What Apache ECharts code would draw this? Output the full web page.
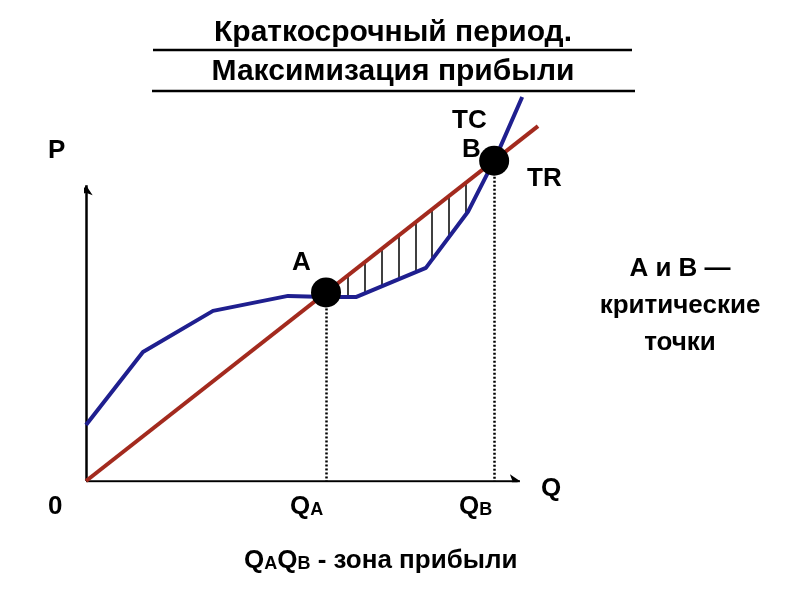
<!DOCTYPE html><html><head><meta charset="utf-8"><script src="https://cdn.jsdelivr.net/npm/echarts@6/dist/echarts.min.js"></script>
<style>body{margin:0}#c{width:794px;height:595px}</style></head><body><div id="c"></div><script>
const trLine=[[0,0],[100,92.4]];
const tcLine=[[0,14.6],[12.6,33.6],[28.1,44.3],[44.7,48.2],[53.1,47.9],[59.7,47.9],[75.2,55.5],[84.5,70.1],[90.7,84.4],[96.5,100]];
const critPoints=[[53.1,49.1],[90.3,83.4]];
const hatchX=[58,61.7,65.5,69.2,73,76.5,80.3,84];
const trSlope=0.924;
function tcAt(x){for(let i=1;i<tcLine.length;i++){const a=tcLine[i-1],b=tcLine[i];if(x<=b[0])return a[1]+(b[1]-a[1])*(x-a[0])/(b[0]-a[0]);}return 100;}
const hatch=hatchX.map(x=>({coords:[[x,x*trSlope],[x,tcAt(x)]]}));
const drops=critPoints.map(p=>({coords:[[p[0],p[1]],[p[0],0]]}));
const axes=[{coords:[[0,0],[96,0]]},{coords:[[0,0],[0,77]]}];
const F='"Liberation Sans",Arial,sans-serif';
const B='bold 26px '+F;
const t=(x,y,txt)=>({type:'text',left:x,top:y,style:{text:txt,font:B,fill:'#000'}});
const sub=(x,y,txt)=>({type:'text',left:x,top:y,style:{text:txt,rich:{a:{font:B,fill:'#000'},s:{font:'bold 18px '+F,fill:'#000',verticalAlign:'bottom',padding:[0,0,1,0]}}}});
const chart=echarts.init(document.getElementById('c'));
chart.setOption({animation:false,
grid:{left:86,right:256,top:97,bottom:114},
xAxis:{type:'value',min:0,max:100,show:false},
yAxis:{type:'value',min:0,max:100,show:false},
series:[
{type:'lines',coordinateSystem:'cartesian2d',data:axes,symbol:['none','arrow'],symbolSize:10,lineStyle:{color:'#000',width:2.5,opacity:1},z:1},
{type:'lines',coordinateSystem:'cartesian2d',data:drops,lineStyle:{color:'#000',width:2.5,type:[2,2],opacity:1},z:1},
{type:'lines',coordinateSystem:'cartesian2d',data:hatch,lineStyle:{color:'#000',width:1.5,opacity:1},z:1},
{type:'line',data:tcLine,showSymbol:false,lineStyle:{color:'#1f1f8f',width:4},z:2},
{type:'line',data:trLine,showSymbol:false,lineStyle:{color:'#a32a1e',width:4},z:3},
{type:'scatter',data:critPoints,symbolSize:30,itemStyle:{color:'#000',opacity:1},z:5}
],
graphic:[
{type:'text',z:10,style:{x:393,y:18,text:'Краткосрочный период.',font:'bold 30px '+F,fill:'#000',textAlign:'center'}},
{type:'text',z:10,style:{x:393,y:57,text:'Максимизация прибыли',font:'bold 30px '+F,fill:'#000',textAlign:'center'}},
{type:'line',shape:{x1:153,y1:50,x2:632,y2:50},style:{stroke:'#000',lineWidth:2.5}},
{type:'line',shape:{x1:152,y1:91,x2:635,y2:91},style:{stroke:'#000',lineWidth:2.5}},
t(48,138,'P'),t(48,494,'0'),t(452,108,'TC'),t(462,137,'B'),t(527,166,'TR'),t(292,250,'A'),t(541,476,'Q'),
sub(290,494,'{a|Q}{s|A}'),sub(459,494,'{a|Q}{s|B}'),
sub(244,548,'{a|Q}{s|A}{a|Q}{s|B}{a| - зона прибыли}'),
{type:'text',z:10,style:{x:680,y:250,text:'А и В —\nкритические\nточки',font:B,fill:'#000',textAlign:'center',lineHeight:37}}
]});
</script></body></html>
